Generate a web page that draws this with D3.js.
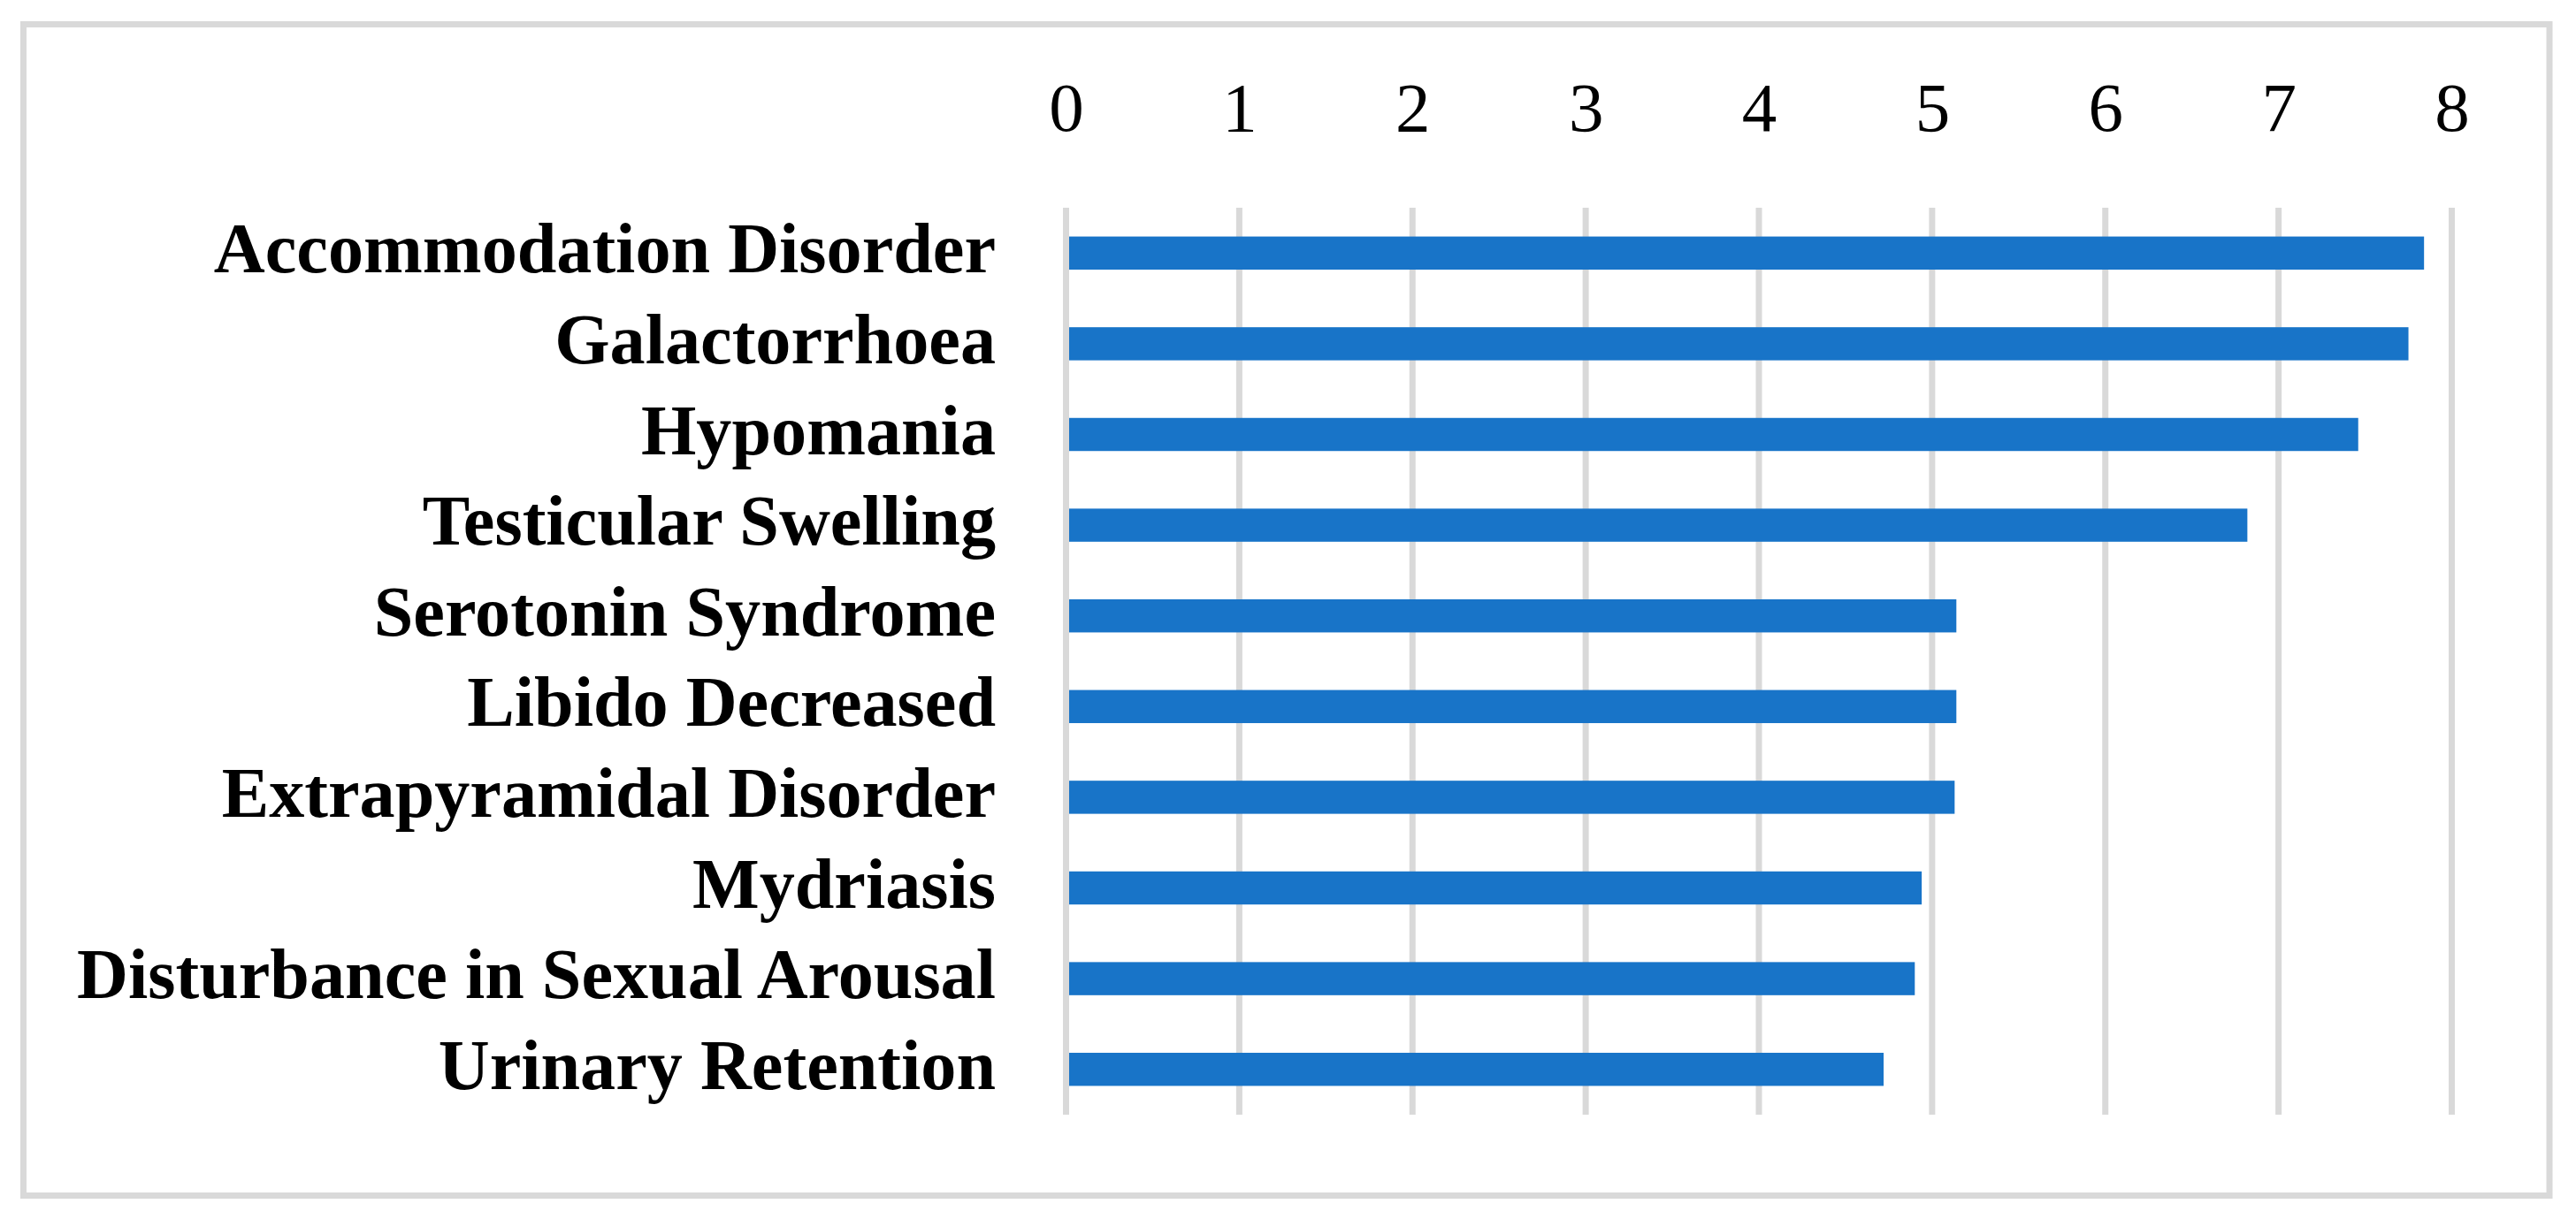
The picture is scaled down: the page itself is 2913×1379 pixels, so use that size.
<!DOCTYPE html>
<html>
<head>
<meta charset="utf-8">
<script src="https://cdn.jsdelivr.net/npm/d3@7"></script>
<style>
  html, body { margin: 0; padding: 0; background: #ffffff; }
  svg { display: block; }
</style>
</head>
<body>
<script>
// ---- data ----
const categories = [
  "Accommodation Disorder",
  "Galactorrhoea",
  "Hypomania",
  "Testicular Swelling",
  "Serotonin Syndrome",
  "Libido Decreased",
  "Extrapyramidal Disorder",
  "Mydriasis",
  "Disturbance in Sexual Arousal",
  "Urinary Retention"
];
const values = [7.84, 7.75, 7.46, 6.82, 5.14, 5.14, 5.13, 4.94, 4.90, 4.72];
const tickValues = [0, 1, 2, 3, 4, 5, 6, 7, 8];

// ---- layout ----
const W = 2913, H = 1379;
const gridColor = "#d9d9d9";
const barColor = "#1874c8";

const svg = d3.select("body").append("svg")
  .attr("width", W).attr("height", H);

svg.append("rect").attr("width", W).attr("height", H).attr("fill", "#ffffff");

// frame
svg.append("rect")
  .attr("x", 26.5).attr("y", 27.5)
  .attr("width", 2883 - 26.5).attr("height", 1352.5 - 27.5)
  .attr("fill", "none")
  .attr("stroke", gridColor)
  .attr("stroke-width", 7);

const x = d3.scaleLinear().domain([0, 8]).range([1205.5, 2772.5]);
const y = d3.scaleBand().domain(categories).range([235, 1261])
  .paddingInner(0.635).paddingOuter(0.3175);

// gridlines
svg.append("g").selectAll("line")
  .data(tickValues)
  .join("line")
  .attr("x1", d => x(d)).attr("x2", d => x(d))
  .attr("y1", 235).attr("y2", 1261)
  .attr("stroke", gridColor)
  .attr("stroke-width", 7);

// bars
svg.append("g").selectAll("rect")
  .data(values)
  .join("rect")
  .attr("x", x(0))
  .attr("y", (d, i) => y(categories[i]))
  .attr("width", d => x(d) - x(0))
  .attr("height", y.bandwidth())
  .attr("fill", barColor);

// zero line on top
svg.append("line")
  .attr("x1", x(0)).attr("x2", x(0))
  .attr("y1", 235).attr("y2", 1261)
  .attr("stroke", gridColor)
  .attr("stroke-width", 7);

// top axis tick labels
const xAxis = d3.axisTop(x).tickValues(tickValues).tickFormat(d3.format("d"))
  .tickSize(0).tickPadding(0);
const gx = svg.append("g")
  .attr("transform", "translate(0,148)")
  .call(xAxis);
gx.select(".domain").remove();
gx.selectAll("text")
  .attr("font-family", "'Liberation Serif', 'Times New Roman', serif")
  .attr("font-size", 79)
  .attr("fill", "#000");

// category labels (left axis)
const yAxis = d3.axisLeft(y).tickSize(0).tickPadding(0);
const gy = svg.append("g")
  .attr("transform", "translate(1126,0)")
  .call(yAxis);
gy.select(".domain").remove();
const labels = gy.selectAll("text")
  .attr("font-family", "'Liberation Serif', 'Times New Roman', serif")
  .attr("font-weight", "bold")
  .attr("font-size", 100)
  .attr("fill", "#000")
  .attr("dy", null)
  .attr("y", 0);

// fit label font size so the longest label spans the reference width
let maxW = 0;
labels.each(function () { maxW = Math.max(maxW, this.getComputedTextLength()); });
const fs = 100 * 1039 / maxW;
labels.attr("font-size", fs).attr("y", 22);
</script>
</body>
</html>
